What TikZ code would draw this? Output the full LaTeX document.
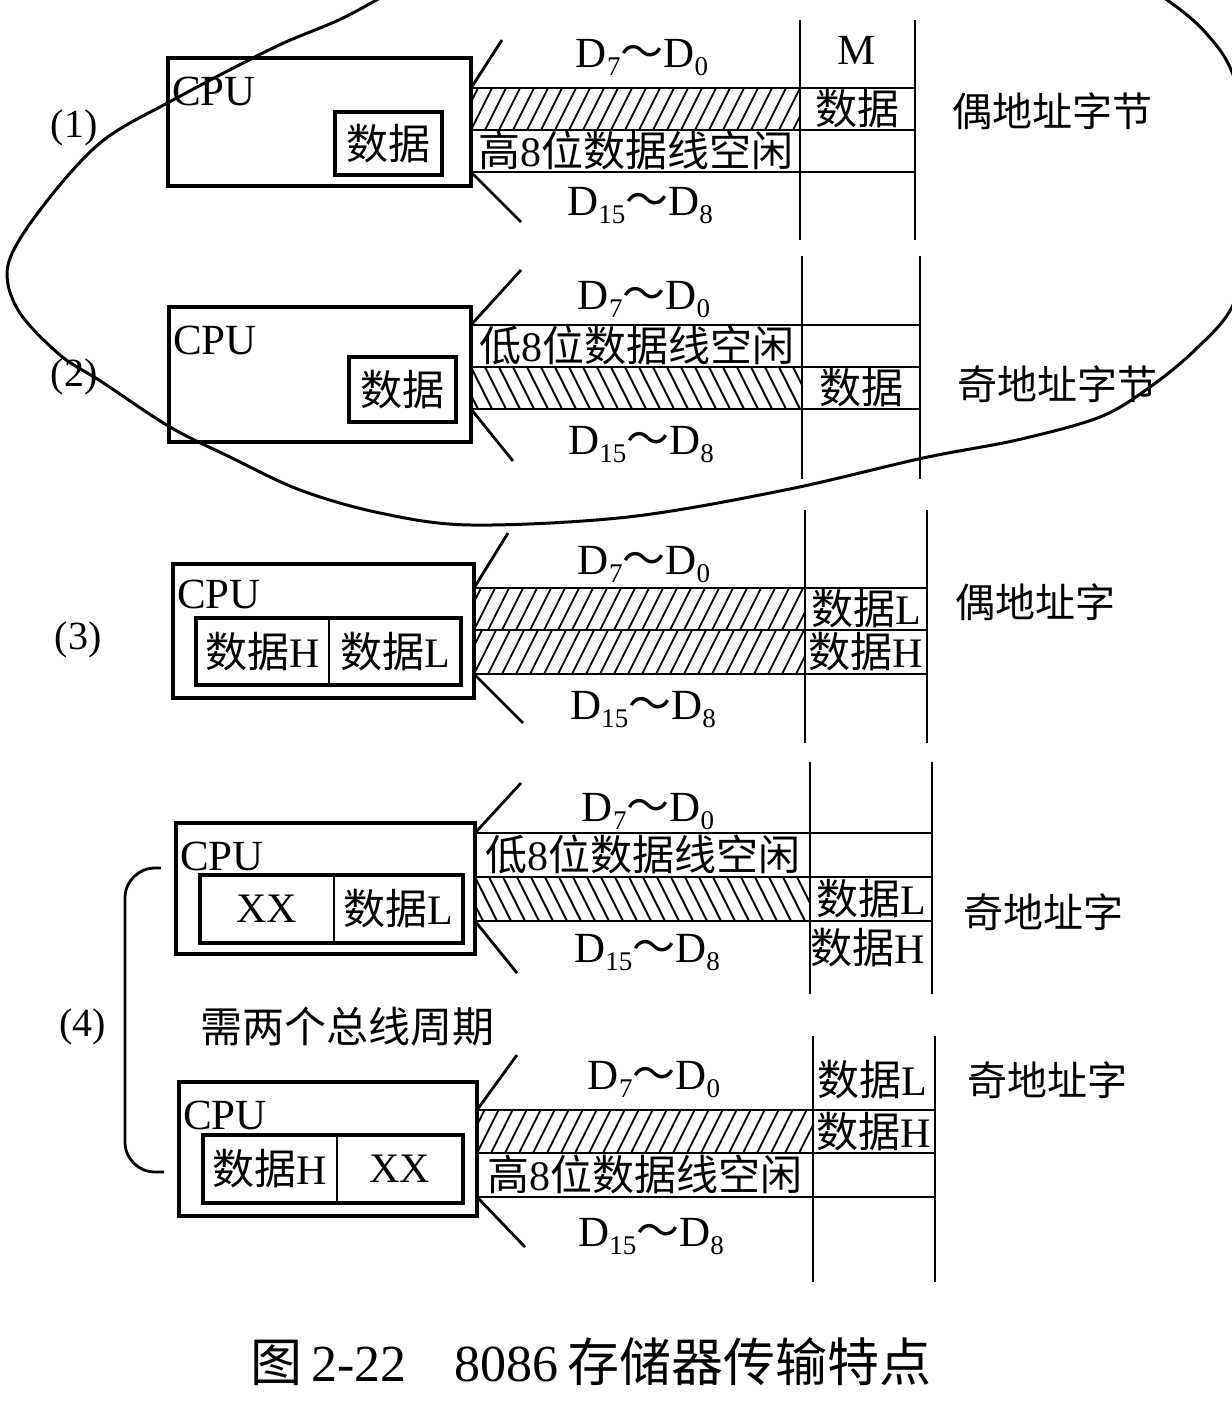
\documentclass[tikz,border=0pt]{standalone}
\usepackage{fontspec}
\setmainfont{Liberation Serif}
\newfontfamily\cjk{Noto Sans CJK SC}
\usetikzlibrary{positioning}
\newcommand\zh[1]{{\cjk #1}}
\newcommand\latfont{\fontsize{43}{48}\selectfont}
\newcommand\zhfont{\fontsize{42}{48}\selectfont}
\newcommand\lanefont{\fontsize{42}{48}\selectfont}
\newcommand\sidefont{\fontsize{40}{48}\selectfont}
\newcommand\capfont{\fontsize{52}{60}\selectfont}
\newcommand\dsub[1]{\raisebox{-8pt}{\fontsize{27}{27}\selectfont #1}}
\newcommand\dlow{D\dsub{7}\zh{～}D\dsub{0}}
\newcommand\dhigh{D\dsub{15}\zh{～}D\dsub{8}}

\begin{document}
\begin{tikzpicture}[x=1pt, y=-1pt,
  cpu/.style={draw, line width=3.2pt, minimum width=302pt, minimum height=132pt, inner sep=0pt, outer sep=0pt, anchor=north west},
  reg/.style={draw, line width=4pt, inner sep=0pt, outer sep=0pt, anchor=north west, font=\zhfont},
  half/.style={draw, line width=2pt, minimum height=67pt, inner sep=0pt, outer sep=0pt, font=\zhfont},
  regline/.style={line width=4pt},
  lane/.style={draw, line width=2.8pt, minimum height=42pt, inner sep=0pt, outer sep=0pt, text height=34pt, text depth=3pt, font=\lanefont},
  cell/.style={draw, line width=2.8pt, minimum height=42pt, inner sep=0pt, outer sep=0pt, text height=34pt, text depth=3pt, font=\zhfont},
  txt/.style={inner sep=0pt, font=\latfont},
  side/.style={inner sep=0pt, anchor=west, font=\sidefont},
  bus/.style={line width=2.8pt},
  pen/.style={line width=3pt, line cap=round},
  hatchF/.style={path picture={\foreach \k in {-2,...,25} \draw[line width=1.8pt] ([xshift=\k*14pt]path picture bounding box.south west) -- ++(22pt,44pt);}},
  hatchB/.style={path picture={\foreach \k in {-2,...,25} \draw[line width=1.8pt] ([xshift=\k*14pt]path picture bounding box.north west) -- ++(22pt,-44pt);}},
]
  \useasboundingbox (0,0) rectangle (1232,1417);

  % (1) even address byte
  \node[cpu, minimum width=303pt, minimum height=128pt] (cpu1) at (168,58) {};
  \node[txt, below right=19pt and 4pt of cpu1.north west] (cpul1) {CPU};
  \node[reg, minimum width=107pt, minimum height=63pt] (d1) at (335,112) {\zh{数据}};
  \node[lane, hatchF, minimum width=329pt, anchor=north west] (lane1a) at (471,88) {};
  \node[lane, minimum width=329pt, below=0pt of lane1a] (lane1b) {\zh{高}8\zh{位数据线空闲}};
  \node[cell, minimum width=115pt, right=0pt of lane1a] (cell1a) {\zh{数据}};
  \node[cell, minimum width=115pt, below=0pt of cell1a] (cell1b) {};
  \draw[bus] (800,20) -- (800,240);
  \draw[bus] (915,20) -- (915,240);
  \draw[bus] (lane1a.north west) -- ++(31,-48);
  \draw[bus] (lane1b.south west) -- ++(50,50);
  \node[txt] (dl1) at (642,58) {\dlow};
  \node[txt] (dh1) at (640,206) {\dhigh};
  \node[txt] (mem) at (857,50) {M};
  \node[side] (lab1) at (952,111) {\zh{偶地址字节}};
  \node[txt, font=\sidefont] (n1) at (74,128) {(1)};

  % (2) odd address byte
  \node[cpu, minimum height=135pt] (cpu2) at (169,307) {};
  \node[txt, below right=19pt and 4pt of cpu2.north west] (cpul2) {CPU};
  \node[reg, minimum width=107pt, minimum height=65pt] (d2) at (349,357) {\zh{数据}};
  \node[lane, minimum width=331pt, anchor=north west] (lane2a) at (471,325) {\zh{低}8\zh{位数据线空闲}};
  \node[lane, hatchB, minimum width=331pt, below=0pt of lane2a] (lane2b) {};
  \node[cell, minimum width=118pt, right=0pt of lane2a] (cell2a) {};
  \node[cell, minimum width=118pt, below=0pt of cell2a] (cell2b) {\zh{数据}};
  \draw[bus] (802,256) -- (802,479);
  \draw[bus] (920,256) -- (920,479);
  \draw[bus] (lane2a.north west) -- ++(50,-55);
  \draw[bus] (lane2b.south west) -- ++(42,52);
  \node[txt] (dl2) at (644,300) {\dlow};
  \node[txt] (dh2) at (641,445) {\dhigh};
  \node[side] (lab2) at (957,384) {\zh{奇地址字节}};
  \node[txt, font=\sidefont] (n2) at (74,377) {(2)};

  % (3) even address word
  \node[cpu, minimum width=301pt, minimum height=134pt] (cpu3) at (173,564) {};
  \node[txt, below right=16pt and 4pt of cpu3.north west] (cpul3) {CPU};
  \node[half, minimum width=133pt, anchor=north west] (d3h) at (196,618) {\zh{数据}H};
  \node[half, minimum width=132pt, right=0pt of d3h] (d3l) {\zh{数据}L};
  \draw[regline] (d3h.north west) rectangle (d3l.south east);
  \node[lane, hatchF, minimum width=331pt, minimum height=42pt, anchor=north west] (lane3a) at (474,588) {};
  \node[lane, hatchF, minimum width=331pt, minimum height=44pt, below=0pt of lane3a] (lane3b) {};
  \node[cell, minimum width=122pt, right=0pt of lane3a] (cell3a) {\zh{数据}L};
  \node[cell, minimum width=122pt, minimum height=44pt, below=0pt of cell3a] (cell3b) {\zh{数据}H};
  \draw[bus] (805,510) -- (805,743);
  \draw[bus] (927,510) -- (927,743);
  \draw[bus] (lane3a.north west) -- ++(34,-55);
  \draw[bus] (lane3b.south west) -- ++(49,49);
  \node[txt] (dl3) at (644,565) {\dlow};
  \node[txt] (dh3) at (643,710) {\dhigh};
  \node[side] (lab3) at (955,602) {\zh{偶地址字}};
  \node[txt, font=\sidefont] (n3) at (78,640) {(3)};

  % (4) odd address word, first bus cycle
  \node[cpu, minimum width=299pt, minimum height=131pt] (cpu4) at (176,823) {};
  \node[txt, below right=19pt and 4pt of cpu4.north west] (cpul4) {CPU};
  \node[half, minimum width=134pt, minimum height=68pt, anchor=north west] (d4x) at (200,875) {XX};
  \node[half, minimum width=129pt, minimum height=68pt, right=0pt of d4x] (d4l) {\zh{数据}L};
  \draw[regline] (d4x.north west) rectangle (d4l.south east);
  \node[lane, minimum width=335pt, minimum height=44pt, anchor=north west] (lane4a) at (475,833) {\zh{低}8\zh{位数据线空闲}};
  \node[lane, hatchB, minimum width=335pt, minimum height=44pt, below=0pt of lane4a] (lane4b) {};
  \node[cell, minimum width=122pt, minimum height=44pt, right=0pt of lane4a] (cell4a) {};
  \node[cell, minimum width=122pt, minimum height=44pt, below=0pt of cell4a] (cell4b) {\zh{数据}L};
  \node[txt, font=\zhfont] (m4h) at (868,948) {\zh{数据}H};
  \draw[bus] (810,762) -- (810,994);
  \draw[bus] (932,762) -- (932,994);
  \draw[bus] (lane4a.north west) -- ++(46,-50);
  \draw[bus] (lane4b.south west) -- ++(42,52);
  \node[txt] (dl4) at (648,812) {\dlow};
  \node[txt] (dh4) at (647,953) {\dhigh};
  \node[side] (lab4) at (963,912) {\zh{奇地址字}};

  \node[txt, font=\zhfont] (cyc) at (347,1027) {\zh{需两个总线周期}};

  % (4) odd address word, second bus cycle
  \node[cpu, minimum width=298pt, minimum height=134pt] (cpu5) at (179,1082) {};
  \node[txt, below right=19pt and 4pt of cpu5.north west] (cpul5) {CPU};
  \node[half, minimum width=134pt, minimum height=68pt, anchor=north west] (d5h) at (203,1135) {\zh{数据}H};
  \node[half, minimum width=126pt, minimum height=68pt, right=0pt of d5h] (d5x) {XX};
  \draw[regline] (d5h.north west) rectangle (d5x.south east);
  \node[lane, hatchF, minimum width=336pt, minimum height=43pt, anchor=north west] (lane5a) at (477,1110) {};
  \node[lane, minimum width=336pt, minimum height=44pt, below=0pt of lane5a] (lane5b) {\zh{高}8\zh{位数据线空闲}};
  \node[cell, minimum width=122pt, minimum height=43pt, right=0pt of lane5a] (cell5a) {\zh{数据}H};
  \node[cell, minimum width=122pt, minimum height=44pt, below=0pt of cell5a] (cell5b) {};
  \node[txt, font=\zhfont] (m5l) at (872,1080) {\zh{数据}L};
  \draw[bus] (813,1036) -- (813,1282);
  \draw[bus] (935,1036) -- (935,1282);
  \draw[bus] (lane5a.north west) -- ++(40,-55);
  \draw[bus] (lane5b.south west) -- ++(48,50);
  \node[txt] (dl5) at (654,1080) {\dlow};
  \node[txt] (dh5) at (651,1237) {\dhigh};
  \node[side] (lab5) at (967,1080) {\zh{奇地址字}};

  % bracket for (4)
  \coordinate (brtop) at (161,868);
  \coordinate (brbot) at (164,1172);
  \draw[bus, rounded corners=30pt] (brtop) -- ++(-36,0) |- (brbot);
  \node[txt, font=\sidefont] (n4) at (83,1027) {(4)};

  % caption
  \node[inner sep=0pt, font=\capfont] (cap) at (591,1362) {\zh{图}\,2-22\hspace{48pt}8086\,\zh{存储器传输特点}};

  % pen loop round (1) and (2)
  \begin{scope}
    \clip (0,0) rectangle (1232,1417);
    \draw[pen] plot[smooth, tension=0.55] coordinates {(1120,-30) (1170,2) (1205,32) (1232,72) (1252,150) (1250,240) (1232,307) (1195,350) (1150,387) (1100,417) (1017,440) (923,458) (785,490) (628,517) (471,525) (380,513) (300,490) (230,457) (170,427) (102,382) (60,355) (18,310) (8,265) (40,210) (100,143) (173,100) (275,47) (345,17) (420,-25)};
  \end{scope}
\end{tikzpicture}
\end{document}
